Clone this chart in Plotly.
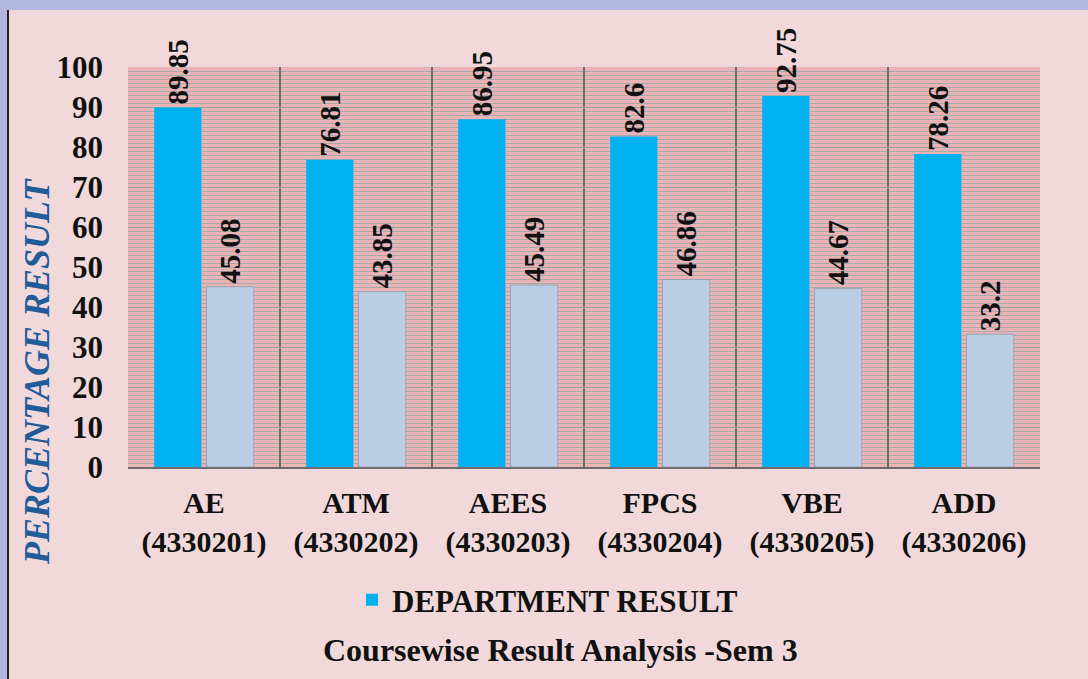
import plotly.graph_objects as go

# ── Data ─────────────────────────────────────────────────────────────────────
COURSES = ["AE<br>(4330201)", "ATM<br>(4330202)", "AEES<br>(4330203)",
           "FPCS<br>(4330204)", "VBE<br>(4330205)", "ADD<br>(4330206)"]
DEPT_RESULT = [89.85, 76.81, 86.95, 82.6, 92.75, 78.26]
GTU_RESULT = [45.08, 43.85, 45.49, 46.86, 44.67, 33.2]
Y_TICKS = [0, 10, 20, 30, 40, 50, 60, 70, 80, 90, 100]

W, H = 1088, 679
ML, MR, MT, MB = 128, 48, 67, 212
PW, PH = W - ML - MR, H - MT - MB

SERIF = "Liberation Serif, Times New Roman, serif"
BOLD = lambda size, color="#111111": dict(family=SERIF, size=size, color=color, weight="bold")

fig = go.Figure()
fig.add_trace(go.Bar(
    x=COURSES, y=DEPT_RESULT, name="DEPARTMENT RESULT",
    marker=dict(color="#00B0F0", line=dict(width=0)),
    text=[f"{v:g}" for v in DEPT_RESULT], textposition="outside",
    textangle=-90, textfont=BOLD(29), cliponaxis=False, constraintext="none",
))
fig.add_trace(go.Bar(
    x=COURSES, y=GTU_RESULT, name="GTU RESULT", showlegend=False,
    marker=dict(color="#B9CDE5", line=dict(width=1, color="#9AA4B0")),
    text=[f"{v:g}" for v in GTU_RESULT], textposition="outside",
    textangle=-90, textfont=BOLD(29), cliponaxis=False, constraintext="none",
))

# lavender frame (top + left) like the slide background
fig.add_shape(type="rect", xref="paper", yref="paper", layer="above",
              x0=-ML / PW, x1=(W - ML) / PW + 0.01, y0=1 + (MT - 10) / PH, y1=1 + MT / PH + 0.01,
              fillcolor="#B3B7E0", line_width=0)
fig.add_shape(type="rect", xref="paper", yref="paper", layer="above",
              x0=-ML / PW - 0.01, x1=(7 - ML) / PW, y0=-MB / PH - 0.01, y1=1 + MT / PH + 0.01,
              fillcolor="#B3B7E0", line_width=0)
fig.add_shape(type="line", xref="paper", yref="paper", layer="above",
              x0=(8 - ML) / PW, x1=(8 - ML) / PW, y0=-MB / PH - 0.01, y1=1 + (MT - 10) / PH,
              line=dict(color="#222222", width=2))

# y-axis title sits low, as in the original slide
fig.add_annotation(text="<i>PERCENTAGE RESULT</i>", xref="paper", yref="paper",
                   x=(37 - ML) / PW, y=-(372 - MT - PH) / PH, showarrow=False,
                   textangle=-90, xanchor="center", yanchor="middle",
                   font=BOLD(36, "#1F5C99"))

fig.update_layout(
    width=W, height=H,
    margin=dict(l=ML, r=MR, t=MT, b=MB, autoexpand=False),
    paper_bgcolor="#F1D9DB", plot_bgcolor="#EAB3B7",
    barmode="group", bargap=0.31, bargroupgap=0.1,
    font=dict(family=SERIF, color="#111111"),
    showlegend=True,
    legend=dict(orientation="h", x=0.46, xanchor="center", y=-0.333, yanchor="middle",
                font=BOLD(31), bgcolor="rgba(0,0,0,0)", itemwidth=30),
    title=dict(text="<b>Coursewise Result Analysis -Sem 3</b>",
               x=0.515, xanchor="center", y=0.043, yanchor="middle",
               font=dict(family=SERIF, size=32, color="#111111")),
    xaxis=dict(
        type="category", tickson="boundaries", showgrid=True,
        gridcolor="#6E6E6E", gridwidth=1.5, ticks="", automargin=False,
        tickfont=BOLD(30), ticklabelstandoff=8,
        showline=True, linecolor="#6E6E6E", linewidth=1.5,
    ),
    yaxis=dict(
        range=[0, 100], tickvals=Y_TICKS, showgrid=True, automargin=False,
        gridcolor="#9AA3A3", gridwidth=1, zeroline=False,
        minor=dict(dtick=1, showgrid=True, gridcolor="#A9ABA9", gridwidth=1),
        tickfont=BOLD(31), ticks="", ticklabelstandoff=24,
    ),
)
fig.update_traces(texttemplate="%{text}")

fig.write_html("out.html", config={"displayModeBar": False},
               post_script="document.body.style.margin='0';")
